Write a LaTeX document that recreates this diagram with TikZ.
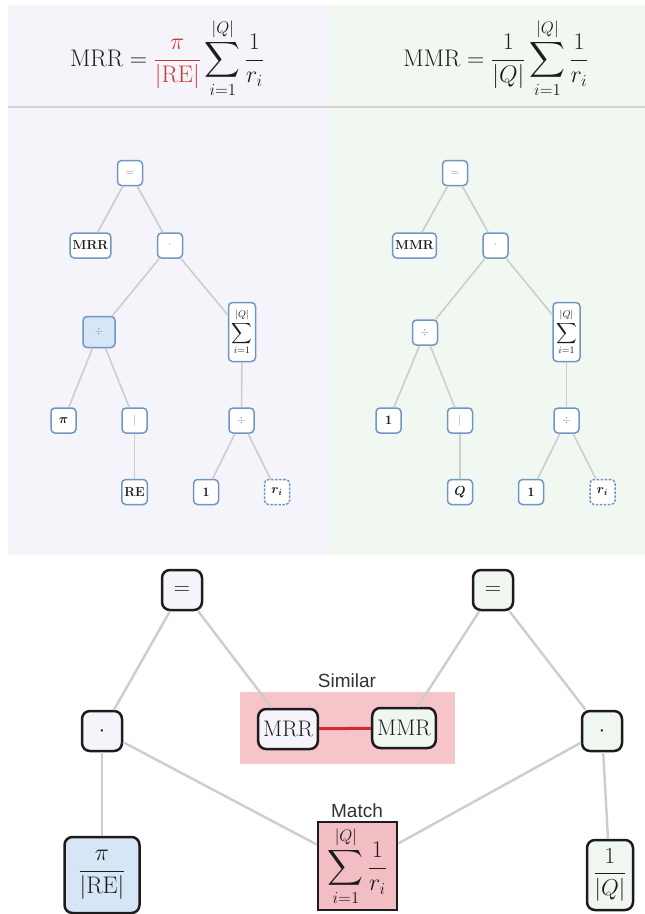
\RequirePackage{fix-cm}
\documentclass[tikz,border=0pt]{standalone}
\usepackage{amsmath}
\usepackage{fontspec}
\newfontfamily\labelfont{Liberation Sans}
\definecolor{lav}{HTML}{F4F4FA}
\definecolor{mint}{HTML}{F1F8F2}
\definecolor{tblue}{HTML}{7097C4}
\definecolor{tfill}{HTML}{D6E6F6}
\definecolor{egray}{HTML}{CDCDCD}
\definecolor{hline}{HTML}{D2D2D2}
\definecolor{pinkbg}{HTML}{F7C5C9}
\definecolor{matchpink}{HTML}{F3BEC3}
\definecolor{redline}{HTML}{D42A2F}
\definecolor{fred}{HTML}{C93A32}
\definecolor{symgray}{HTML}{858585}
\definecolor{bfillL}{HTML}{F4F4FA}
\definecolor{bfillR}{HTML}{EFF7F0}
\definecolor{ink}{HTML}{1C1C1C}
\tikzset{
  tnode/.style={draw=tblue, line width=1.5pt, rounded corners=4pt, fill=white,
    minimum width=25pt, minimum height=25pt, inner sep=2.5pt,
    font=\fontsize{13}{15}\selectfont, text=ink},
  tsym/.style={tnode, text=symgray, font=\fontsize{11}{13}\selectfont},
  tdash/.style={tnode, dash pattern=on 2.5pt off 1.5pt},
  tedge/.style={draw=egray, line width=1.6pt},
  bnode/.style={draw=ink, line width=2.5pt, rounded corners=8pt,
    minimum width=40pt, minimum height=40pt, inner sep=3pt, inner xsep=5pt,
    font=\fontsize{22.5}{26}\selectfont, text=ink},
  bedge/.style={draw=egray, line width=2.4pt},
  lbl/.style={font=\labelfont\fontsize{19}{22}\selectfont, text=ink!90},
  formula/.style={font=\fontsize{24}{28}\selectfont, text=ink}
}
\begin{document}
\begin{tikzpicture}[x=1pt,y=-1pt]
\useasboundingbox (0,0) rectangle (645,914);
\fill[white] (0,0) rectangle (645,914);
% panels
\fill[lav] (8,5) rectangle (330,555);
\fill[mint] (330,5) rectangle (645,555);
\draw[hline, line width=1.8pt] (8,107) -- (645,107);
% header formulas
\node[formula] (fL) at (167,58) {$\displaystyle \mathrm{MRR} = \textcolor{fred}{\dfrac{\pi}{|\mathrm{RE}|}} \sum_{i=1}^{|Q|}\frac{1}{r_i}$};
\node[formula] (fR) at (496,58) {$\displaystyle \mathrm{MMR} = \frac{1}{|Q|} \sum_{i=1}^{|Q|}\frac{1}{r_i}$};
% left tree
\node[tsym] (Leq) at (130,173) {$=$};
\node[tnode] (Lmrr) at (90.5,245.5) {\textbf{MRR}};
\node[tsym] (Ldot) at (170,245.5) {$\cdot$};
\node[tsym, fill=tfill, minimum width=32pt, minimum height=31pt] (Ldiv) at (99,332) {$\div$};
\node[tnode, minimum width=27pt, minimum height=59pt, inner sep=1pt, font=\fontsize{14}{16}\selectfont] (Lsum) at (242,332) {$\displaystyle\sum_{i=1}^{|Q|}$};
\node[tnode] (Lpi) at (63.5,420.5) {$\boldsymbol{\pi}$};
\node[tsym] (Labs) at (134.5,420.5) {$|$};
\node[tnode] (Lre) at (134.5,492) {\textbf{RE}};
\node[tsym] (Ldivb) at (241.5,420.5) {$\div$};
\node[tnode] (Lone) at (206,492) {$\mathbf{1}$};
\node[tdash] (Lri) at (277,492) {$\boldsymbol{r_i}$};
\draw[tedge] (Leq) -- (Lmrr);
\draw[tedge] (Leq) -- (Ldot);
\draw[tedge] (Ldot) -- (Ldiv);
\draw[tedge] (Ldot) -- (Lsum);
\draw[tedge] (Ldiv) -- (Lpi);
\draw[tedge] (Ldiv) -- (Labs);
\draw[tedge] (Labs) -- (Lre);
\draw[tedge] (Lsum) -- (Ldivb);
\draw[tedge] (Ldivb) -- (Lone);
\draw[tedge] (Ldivb) -- (Lri);
% right tree
\node[tsym] (Req) at (455,173) {$=$};
\node[tnode] (Rmmr) at (414.5,245.5) {\textbf{MMR}};
\node[tsym] (Rdot) at (495.5,245.5) {$\cdot$};
\node[tsym] (Rdiv) at (425,332.5) {$\div$};
\node[tnode, minimum width=27pt, minimum height=59pt, inner sep=1pt, font=\fontsize{14}{16}\selectfont] (Rsum) at (566.5,332) {$\displaystyle\sum_{i=1}^{|Q|}$};
\node[tnode] (Rone) at (388.5,420.5) {$\mathbf{1}$};
\node[tsym] (Rabs) at (460,420.5) {$|$};
\node[tnode] (Rq) at (460,492) {$\boldsymbol{Q}$};
\node[tsym] (Rdivb) at (566.5,420.5) {$\div$};
\node[tnode] (Rone2) at (531,492) {$\mathbf{1}$};
\node[tdash] (Rri) at (602.5,492) {$\boldsymbol{r_i}$};
\draw[tedge] (Req) -- (Rmmr);
\draw[tedge] (Req) -- (Rdot);
\draw[tedge] (Rdot) -- (Rdiv);
\draw[tedge] (Rdot) -- (Rsum);
\draw[tedge] (Rdiv) -- (Rone);
\draw[tedge] (Rdiv) -- (Rabs);
\draw[tedge] (Rabs) -- (Rq);
\draw[tedge] (Rsum) -- (Rdivb);
\draw[tedge] (Rdivb) -- (Rone2);
\draw[tedge] (Rdivb) -- (Rri);
% bottom comparison
\fill[pinkbg] (240,692) rectangle (455,764);
\node[lbl] (simlbl) at (347,681) {Similar};
\node[lbl] (matchlbl) at (357,811) {Match};
\node[bnode, fill=bfillL] (Beq) at (182,590) {$=$};
\node[bnode, fill=bfillR] (BeqR) at (493,590) {$=$};
\node[bnode, fill=bfillL] (Bdot) at (102,731) {$\cdot$};
\node[bnode, fill=bfillR] (BdotR) at (602,731) {$\cdot$};
\node[bnode, fill=bfillL, minimum height=40pt] (Bmrr) at (288,729) {MRR};
\node[bnode, fill=bfillR, minimum height=40pt] (Bmmr) at (404,728) {MMR};
\node[bnode, fill=tfill, minimum width=75pt, minimum height=76pt, font=\fontsize{24}{28}\selectfont] (Bfrac) at (102,875) {$\dfrac{\pi}{|\mathrm{RE}|}$};
\node[bnode, fill=bfillR, minimum width=46pt, minimum height=70pt, inner xsep=3pt, font=\fontsize{23}{27}\selectfont] (BfracR) at (610,875) {$\dfrac{1}{|Q|}$};
\node[bnode, rounded corners=0pt, fill=matchpink, minimum width=79pt, minimum height=88pt, inner sep=1pt, font=\fontsize{24}{28}\selectfont] (Bmatch) at (357.5,866) {$\displaystyle\sum_{i=1}^{|Q|}\frac{1}{r_i}$};
\draw[bedge] (Beq) -- (Bdot);
\draw[bedge] (Beq) -- (Bmrr);
\draw[bedge] (BeqR) -- (Bmmr);
\draw[bedge] (BeqR) -- (BdotR);
\draw[bedge] (Bdot) -- (Bfrac);
\draw[bedge] (Bdot) -- (Bmatch);
\draw[bedge] (BdotR) -- (Bmatch);
\draw[bedge] (BdotR) -- (BfracR);
\draw[redline, line width=3pt] (Bmrr) -- (Bmmr);
\end{tikzpicture}
\end{document}
